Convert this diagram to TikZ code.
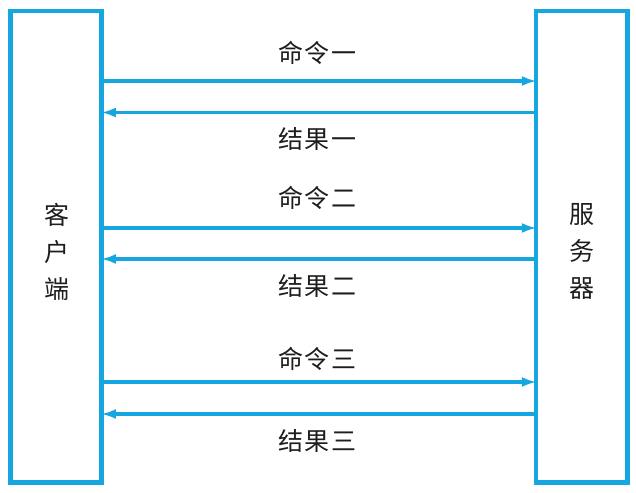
\documentclass[tikz,border=0pt]{standalone}
\usepackage{fontspec}
\newfontfamily\cjk[LetterSpace=6]{Noto Sans CJK SC}
\usetikzlibrary{arrows.meta}
\definecolor{linkblue}{RGB}{22,167,225}
\definecolor{txt}{RGB}{30,30,30}
\tikzset{
  party/.style={draw=linkblue, line width=4.5pt, rectangle, inner sep=0pt, minimum width=91.4pt, minimum height=471.3pt},
  msg/.style={draw=linkblue, line width=3.5pt, -{Latex[length=15pt,width=10pt]}, shorten >=-3pt},
  lbl/.style={font=\cjk\fontsize{25}{25}\selectfont, text=txt, inner sep=0pt, anchor=center},
  vlbl/.style={font=\cjk\fontsize{25}{37}\selectfont, text=txt, inner sep=0pt, align=center, anchor=center}
}
\begin{document}
\begin{tikzpicture}[x=1pt,y=-1pt]
\useasboundingbox (0,0) rectangle (636,492);
\node[party] (client) at (56,246.85) {};
\node[party] (server) at (581.75,246.85) {};
\node[vlbl] (clientlbl) at (57,251.5) {客\\户\\端};
\node[vlbl] (serverlbl) at (582,251) {服\\务\\器};
\coordinate (y1) at (0,81);
\coordinate (y2) at (0,112.5);
\coordinate (y3) at (0,228);
\coordinate (y4) at (0,259);
\coordinate (y5) at (0,382);
\coordinate (y6) at (0,414);
\draw[msg] (client.east |- y1) -- (server.west |- y1);
\draw[msg] (server.west |- y2) -- (client.east |- y2);
\draw[msg] (client.east |- y3) -- (server.west |- y3);
\draw[msg] (server.west |- y4) -- (client.east |- y4);
\draw[msg] (client.east |- y5) -- (server.west |- y5);
\draw[msg] (server.west |- y6) -- (client.east |- y6);
\node[lbl] (c1) at (317,53) {命令一};
\node[lbl] (r1) at (317,139) {结果一};
\node[lbl] (c2) at (317,198) {命令二};
\node[lbl] (r2) at (317,286) {结果二};
\node[lbl] (c3) at (317,359) {命令三};
\node[lbl] (r3) at (317,441) {结果三};
\end{tikzpicture}
\end{document}
